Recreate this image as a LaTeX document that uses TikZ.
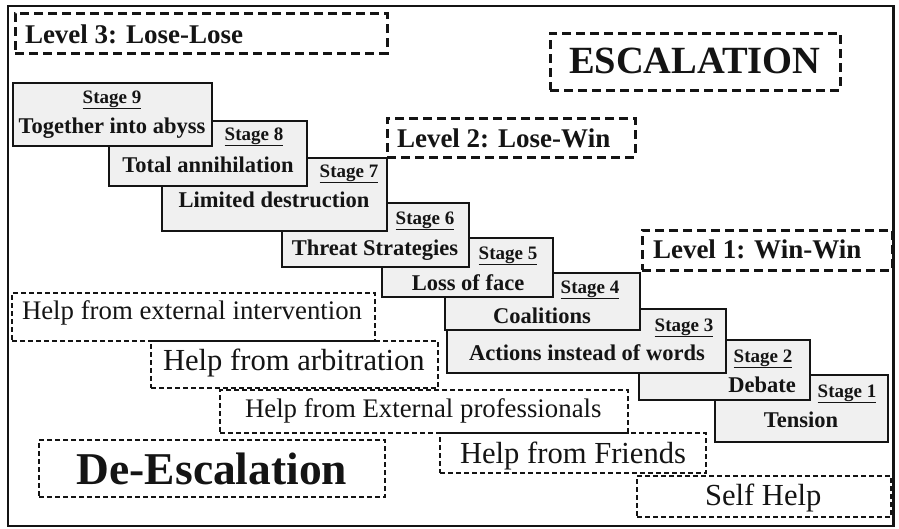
\documentclass[tikz,border=0pt]{standalone}
\usepackage{fontspec}
\setmainfont{Liberation Serif}
\definecolor{boxgray}{RGB}{240,240,240}
\definecolor{inkblack}{RGB}{20,20,20}
\begin{document}
\begin{tikzpicture}[x=1pt,y=-1pt,
  every node/.style={inner sep=0pt,outer sep=0pt,text=inkblack},
  stagebox/.style={draw=inkblack,line width=1.6pt,fill=boxgray,anchor=north west},
  levelbox/.style={draw=inkblack,line width=3pt,dash pattern=on 9pt off 5pt,anchor=north west},
  helpbox/.style={draw=inkblack,line width=1.4pt,dash pattern=on 5pt off 3pt,anchor=north west},
  tag/.style={anchor=base,font=\fontsize{19}{22}\selectfont\bfseries},
  stagetext/.style={anchor=base,font=\fontsize{22.5}{26}\selectfont\bfseries},
  leveltext/.style={anchor=base west,font=\fontsize{27}{31}\selectfont\bfseries},
  helpsmall/.style={anchor=base west,font=\fontsize{26.8}{31}\selectfont},
  helplarge/.style={anchor=base west,font=\fontsize{30.6}{35}\selectfont},
  box/.style 2 args={minimum width=#1,minimum height=#2}]
\useasboundingbox (0,0) rectangle (899,528);
% outer frame
\node[draw=inkblack,line width=2.6pt,anchor=north west,box={885.5pt}{520pt}] (frame) at (8,6) {};

% level and title labels
\node[levelbox,box={372pt}{40pt}] (lv3) at (15,13) {};
\node[leveltext] (lv3t) at (25,43) {Level 3: Lose-Lose};
\node[levelbox,box={290pt}{57pt}] (esc) at (550,33) {};
\node[anchor=base west,font=\fontsize{38.5}{42}\selectfont\bfseries] (esct) at (569,73) {ESCALATION};
\node[levelbox,box={248pt}{39pt}] (lv2) at (387,118) {};
\node[leveltext] (lv2t) at (397,147) {Level 2: Lose-Win};
\node[levelbox,box={250pt}{40pt}] (lv1) at (642,230) {};
\node[leveltext] (lv1t) at (653,258) {Level 1: Win-Win};

% staircase of stages, lowest step first so each higher step lies on top
\node[stagebox,box={173pt}{67pt}] (s1) at (715,375) {};
\node[tag] (s1a) at (847,397) {\underline{Stage 1}};
\node[stagetext] (s1b) at (801,427) {Tension};

\node[stagebox,box={171pt}{60pt}] (s2) at (639,340) {};
\node[tag] (s2a) at (763,362) {\underline{Stage 2}};
\node[stagetext] (s2b) at (762,392) {Debate};

\node[stagebox,box={279pt}{64pt}] (s3) at (447,309) {};
\node[tag] (s3a) at (684,331) {\underline{Stage 3}};
\node[stagetext] (s3b) at (587,360) {Actions instead of words};

\node[stagebox,box={195pt}{57pt}] (s4) at (445,273) {};
\node[tag] (s4a) at (590,293) {\underline{Stage 4}};
\node[stagetext] (s4b) at (542,323) {Coalitions};

\node[stagebox,box={171pt}{59pt}] (s5) at (382,238) {};
\node[tag] (s5a) at (508,259) {\underline{Stage 5}};
\node[stagetext] (s5b) at (468,290) {Loss of face};

\node[stagebox,box={187pt}{64pt}] (s6) at (282,203) {};
\node[tag] (s6a) at (425,224) {\underline{Stage 6}};
\node[stagetext] (s6b) at (375,255) {Threat Strategies};

\node[stagebox,box={225pt}{73pt}] (s7) at (162,158) {};
\node[tag] (s7a) at (349,177) {\underline{Stage 7}};
\node[stagetext] (s7b) at (274,207) {Limited destruction};

\node[stagebox,box={198pt}{65pt}] (s8) at (109,121) {};
\node[tag] (s8a) at (254,140) {\underline{Stage 8}};
\node[stagetext] (s8b) at (208,172) {Total annihilation};

\node[stagebox,box={199pt}{63pt}] (s9) at (13,83) {};
\node[tag] (s9a) at (112,103) {\underline{Stage 9}};
\node[stagetext] (s9b) at (112,133) {Together into abyss};

% kinds of help, from the widest conflict down to the mildest
\node[helpbox,box={363pt}{48pt}] (h1) at (12,293) {};
\node[helpsmall] (h1t) at (22,319) {Help from external intervention};
\node[helpbox,box={287pt}{47pt}] (h2) at (151,341) {};
\node[helplarge] (h2t) at (163,370) {Help from arbitration};
\node[helpbox,box={408pt}{43pt}] (h3) at (220,390) {};
\node[helpsmall] (h3t) at (245,417) {Help from External professionals};
\node[helpbox,box={266pt}{40pt}] (h4) at (440,433) {};
\node[helplarge] (h4t) at (460,463) {Help from Friends};
\node[helpbox,box={254pt}{41pt}] (h5) at (637,476) {};
\node[helplarge] (h5t) at (705,505) {Self Help};

\node[helpbox,box={346pt}{57pt}] (de) at (39,440) {};
\node[anchor=base,font=\fontsize{45.5}{50}\selectfont\bfseries] (det) at (212,484) {De-Escalation};
\end{tikzpicture}
\end{document}
